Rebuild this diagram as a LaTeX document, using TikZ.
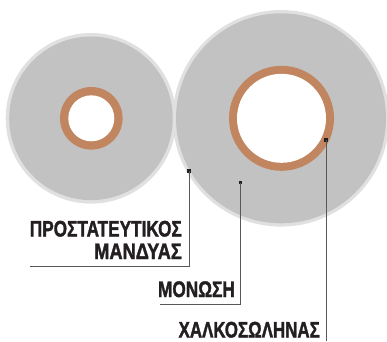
\documentclass[tikz,border=0pt]{standalone}
\usepackage{graphicx}
\usepackage{fontspec}
\setmainfont{Liberation Sans}
\newfontfamily\labfont[FakeBold=1.8]{Liberation Sans Bold}
\definecolor{rim}{HTML}{E0E0E0}
\definecolor{insul}{HTML}{C2C2C2}
\definecolor{copper}{HTML}{C18560}
\definecolor{ink}{HTML}{231F20}
\tikzset{
  rimdisc/.style={fill=rim,draw=none},
  insdisc/.style={fill=insul,draw=none},
  copdisc/.style={fill=copper,draw=none},
  coredisc/.style={fill=white,draw=none},
  dotmark/.style={fill=ink,draw=none,inner sep=0pt,minimum size=3.6pt,rectangle},
  leader/.style={draw=ink!75,line width=0.9pt,line join=miter},
  lab/.style={font=\fontsize{22.5}{23}\labfont,text=ink,inner sep=0pt,anchor=base east}
}
\newcommand{\cond}[2]{\scalebox{#1}[1]{#2}}
\begin{document}
\begin{tikzpicture}[x=1pt,y=-1pt]
\useasboundingbox (0,0) rectangle (387,341);
% left cable
\fill[rimdisc] (91,118.3) circle (85.3);
\fill[insdisc] (91,118.3) circle (81.8);
\fill[copdisc] (91.3,118.3) circle (31.3);
\fill[coredisc] (91.3,118.3) circle (23);
% right cable
\fill[rimdisc] (281,118.3) circle (108.3);
\fill[insdisc] (281,118.3) circle (105);
\fill[copdisc] (281.5,118.3) circle (52.5);
\fill[coredisc] (281.5,118.3) circle (44.5);
% markers
\node[dotmark] (d1) at (189,171) {};
\node[dotmark] (d2) at (240.5,182.5) {};
\node[dotmark] (d3) at (326,140) {};
\coordinate (c1) at (189,266);
\coordinate (e1) at (30,266);
\coordinate (c2) at (240.5,304);
\coordinate (e2) at (160,304);
\coordinate (e3) at (326,341);
\draw[leader] (d1.center) -- (c1) -- (e1);
\draw[leader] (d2.center) -- (c2) -- (e2);
\draw[leader] (d3.center) -- (e3);
% labels
\node[lab] (t1) at (182,236.5) {\cond{.765}{ΠΡΟΣΤΑΤΕΥΤΙΚΟΣ}};
\node[lab] (t2) at (182,259) {\cond{.81}{ΜΑΝΔΥΑΣ}};
\node[lab] (t3) at (235,297) {\cond{.765}{ΜΟΝΩΣΗ}};
\node[lab] (t4) at (320,337.5) {\cond{.752}{ΧΑΛΚΟΣΩΛΗΝΑΣ}};
\end{tikzpicture}
\end{document}
